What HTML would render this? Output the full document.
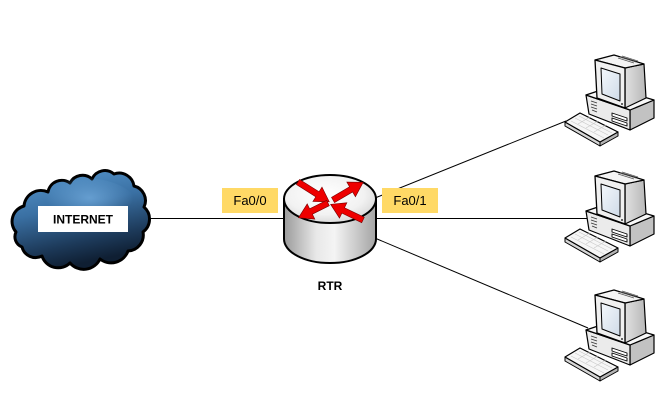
<!DOCTYPE html>
<html><head><meta charset="utf-8"><style>
html,body{margin:0;padding:0;background:#fff;}
svg{display:block;}
</style></head><body>
<svg width="665" height="412" viewBox="0 0 665 412" xmlns="http://www.w3.org/2000/svg">
<defs>
  <linearGradient id="cloudG" x1="0" y1="0" x2="0.3" y2="1">
    <stop offset="0" stop-color="#5a9bd2"/>
    <stop offset="0.45" stop-color="#3a70a3"/>
    <stop offset="0.8" stop-color="#1d3a5a"/>
    <stop offset="1" stop-color="#0f1f33"/>
  </linearGradient>
  <radialGradient id="cloudH" cx="0.55" cy="0.35" r="0.4">
    <stop offset="0" stop-color="#6fa8da" stop-opacity="0.8"/>
    <stop offset="1" stop-color="#6fa8da" stop-opacity="0"/>
  </radialGradient>
  <linearGradient id="sideG" x1="0" y1="0" x2="1" y2="0">
    <stop offset="0" stop-color="#9a9a9a"/>
    <stop offset="0.35" stop-color="#e8e8e8"/>
    <stop offset="0.55" stop-color="#f4f4f4"/>
    <stop offset="1" stop-color="#a4a4a4"/>
  </linearGradient>
  <radialGradient id="topG" cx="0.45" cy="0.4" r="0.7">
    <stop offset="0" stop-color="#ffffff"/>
    <stop offset="0.6" stop-color="#f2f2f2"/>
    <stop offset="1" stop-color="#cfcfcf"/>
  </radialGradient>
  <linearGradient id="scrG" x1="0" y1="0" x2="1" y2="1">
    <stop offset="0" stop-color="#f4f8fc"/>
    <stop offset="1" stop-color="#cfdbe8"/>
  </linearGradient>
  <linearGradient id="monSide" x1="0" y1="0" x2="1" y2="0">
    <stop offset="0" stop-color="#e0e0e0"/>
    <stop offset="1" stop-color="#b8b8b8"/>
  </linearGradient>
  <g id="pc" stroke="#000" stroke-linejoin="round">
    <!-- keyboard -->
    <polygon points="565,122 600,142 600,146 565,126" fill="#d6d6d6" stroke-width="1"/>
    <polygon points="600,142 618,132 618,136 600,146" fill="#b4b4b4" stroke-width="1"/>
    <polygon points="565,122 580,113 618,132 600,142" fill="#f6f6f6" stroke-width="1.2"/>
    <g stroke="#c8c8c8" stroke-width="0.6" fill="none">
      <line x1="571" y1="121" x2="604" y2="138"/>
      <line x1="575" y1="118" x2="608" y2="135"/>
      <line x1="579" y1="116" x2="612" y2="133"/>
      <line x1="578" y1="124" x2="590" y2="117"/>
      <line x1="586" y1="128" x2="598" y2="121"/>
      <line x1="594" y1="132" x2="606" y2="125"/>
    </g>
    <!-- base -->
    <polygon points="630,110 654,100 654,118 630,130" fill="#c2c2c2" stroke-width="1.2"/>
    <polygon points="586,95 630,110 630,130 589,114" fill="#ebebeb" stroke-width="1.2"/>
    <polygon points="586,95 610,87 654,100 630,110" fill="#f7f7f7" stroke-width="1.2"/>
    <g stroke="#333" stroke-width="0.8">
      <line x1="591" y1="101" x2="597" y2="103"/>
      <line x1="591" y1="104" x2="597" y2="106"/>
      <line x1="591" y1="107" x2="597" y2="109"/>
      <line x1="592" y1="110" x2="597" y2="112"/>
    </g>
    <polygon points="612,113 627,118 627,121 612,116" fill="#fff" stroke-width="0.9"/>
    <polygon points="612,118 627,123 627,126 612,121" fill="#fff" stroke-width="0.9"/>
    <!-- monitor -->
    <polygon points="625,68 644,64 646,98 625,108" fill="url(#monSide)" stroke-width="1.2"/>
    <polygon points="595,60 614,55 644,64 625,68" fill="#f4f4f4" stroke-width="1.2"/>
    <g stroke="#555" stroke-width="0.7">
      <line x1="618" y1="58" x2="634" y2="63"/>
      <line x1="620" y1="57" x2="636" y2="62"/>
      <line x1="622" y1="56" x2="638" y2="61"/>
    </g>
    <polygon points="595,60 625,68 625,108 597,98" fill="#f0f0f0" stroke-width="1.3"/>
    <polygon points="601,68 620,74 620,101 602,94" fill="url(#scrG)" stroke-width="1"/>
    <circle cx="622" cy="104" r="0.9" fill="#000" stroke="none"/>
  </g>
</defs>

<!-- connectors -->
<g stroke="#000" stroke-width="1" fill="none">
  <line x1="148" y1="218.5" x2="588" y2="218.5"/>
  <line x1="370" y1="200" x2="566" y2="121"/>
  <line x1="370" y1="236" x2="588" y2="328"/>
</g>

<!-- cloud -->
<path d="M16,232 A16,16 0 0 1 24,206 A17,17 0 0 1 48,192 A14,14 0 0 1 70,183 A14,14 0 0 1 92,179 A14,14 0 0 1 114,174 A15,15 0 0 1 134,186 A15,15 0 0 1 144,207 A16,16 0 0 1 143,232 A16,16 0 0 1 128,251 A18,18 0 0 1 100,259 A18,18 0 0 1 70,263 A17,17 0 0 1 42,256 A14,14 0 0 1 22,247 A11,11 0 0 1 16,232 Z" fill="url(#cloudG)" stroke="#000" stroke-width="3" stroke-linejoin="round"/>
<path d="M30,212 A40,22 0 0 1 138,204 A45,22 0 0 1 30,212 Z" fill="url(#cloudH)" stroke="none"/>
<rect x="38" y="206" width="90" height="26" fill="#fff"/>
<text x="83" y="223.5" text-anchor="middle" font-family="Liberation Sans, sans-serif" font-weight="bold" font-size="12" fill="#000">INTERNET</text>

<!-- labels -->
<rect x="222" y="188" width="56" height="25" fill="#ffd966"/>
<text x="250" y="205" text-anchor="middle" font-family="Liberation Sans, sans-serif" font-size="13" fill="#000">Fa0/0</text>
<rect x="382" y="188" width="56" height="25" fill="#ffd966"/>
<text x="410" y="205" text-anchor="middle" font-family="Liberation Sans, sans-serif" font-size="13" fill="#000">Fa0/1</text>

<!-- router -->
<path d="M284,199 L284,239 A46,24 0 0 0 376,239 L376,199 Z" fill="url(#sideG)" stroke="#000" stroke-width="2"/>
<ellipse cx="330" cy="199" rx="46" ry="24" fill="url(#topG)" stroke="#000" stroke-width="2"/>
<g fill="#ee0000" stroke="#7a0000" stroke-width="0.6" stroke-linejoin="miter">
  <polygon transform="translate(298,182) rotate(32.3)" points="0,-3 23,-3 23,-8.5 37,0 23,8.5 23,3 0,3"/>
  <polygon transform="translate(333,200) rotate(-30.4)" points="0,-3 21,-3 21,-8.5 35,0 21,8.5 21,3 0,3"/>
  <polygon transform="translate(328,203) rotate(153.4)" points="0,-3 19,-3 19,-8.5 33,0 19,8.5 19,3 0,3"/>
  <polygon transform="translate(363,220) rotate(205.8)" points="0,-3 22,-3 22,-8.5 36,0 22,8.5 22,3 0,3"/>
</g>
<text x="330" y="290" text-anchor="middle" font-family="Liberation Sans, sans-serif" font-weight="bold" font-size="12" fill="#000">RTR</text>

<!-- PCs -->
<use href="#pc"/>
<use href="#pc" transform="translate(0,116)"/>
<use href="#pc" transform="translate(0,235)"/>
</svg>
</body></html>
